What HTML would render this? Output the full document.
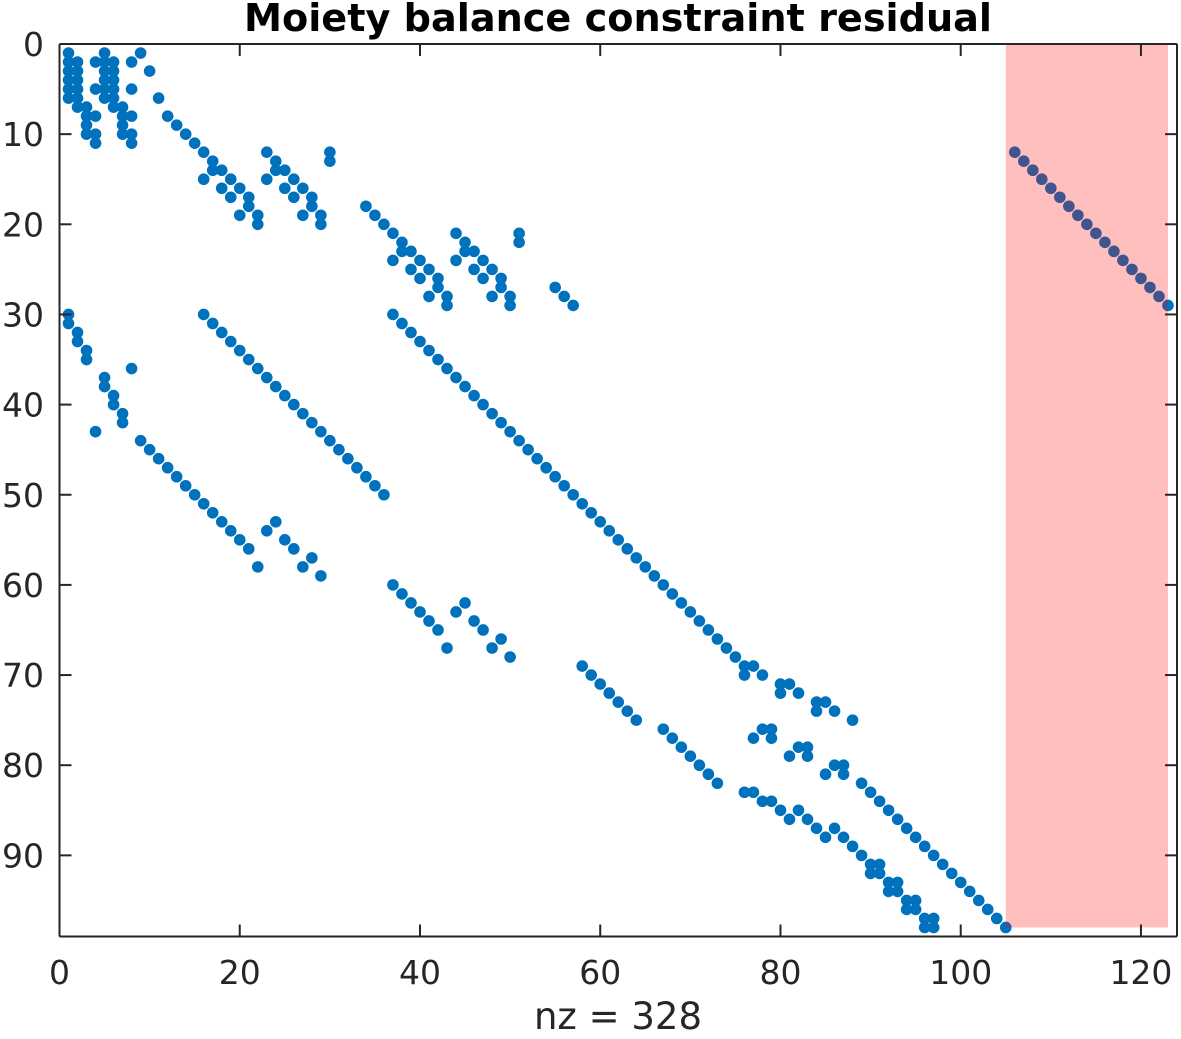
<!DOCTYPE html>
<html><head><meta charset="utf-8"><style>
body{margin:0;background:#fff;}
svg text{font-family:"DejaVu Sans","Liberation Sans",sans-serif;fill:#262626;}
</style></head><body>
<svg id="chart" width="1181" height="1034" xmlns="http://www.w3.org/2000/svg">
<rect width="1181" height="1034" fill="#fff"/>
<text x="618" y="31" text-anchor="middle" font-size="38.2" font-weight="bold" style="fill:#000">Moiety balance constraint residual</text>
<g id="marks"></g>
<rect id="hl" fill="rgba(255,0,0,0.25)"/>
<g id="axes"></g>
<text x="618" y="1029" text-anchor="middle" font-size="37">nz = 328</text>
</svg>
<script>
const xTicks=[0,20,40,60,80,100,120];
const yTicks=[0,10,20,30,40,50,60,70,80,90];
const nCols=123, nRows=98;
const highlightCols=[105,123];
const highlightRows=[0,98];
// nonzero entries grouped: [col, rows...]
const colRows=[
[1,1,2,3,4,5,6,30,31],[2,2,3,4,5,6,7,32,33],[3,7,8,9,10,34,35],[4,2,5,8,10,11,43],
[5,1,2,3,4,5,6,37,38],[6,2,3,4,5,6,7,39,40],[7,7,8,9,10,41,42],[8,2,5,8,10,11,36],
[9,1,44],[10,3,45],[11,6,46],[12,8,47],[13,9,48],[14,10,49],[15,11,50],
[16,12,15,30,51],[17,13,14,31,52],[18,14,16,32,53],[19,15,17,33,54],[20,16,19,34,55],
[21,17,18,35,56],[22,19,20,36,58],[23,12,15,37,54],[24,13,14,38,53],[25,14,16,39,55],
[26,15,17,40,56],[27,16,19,41,58],[28,17,18,42,57],[29,19,20,43,59],[30,12,13,44],
[31,45],[32,46],[33,47],[34,18,48],[35,19,49],[36,20,50],
[37,21,24,30,60],[38,22,23,31,61],[39,23,25,32,62],[40,24,26,33,63],[41,25,28,34,64],
[42,26,27,35,65],[43,28,29,36,67],[44,21,24,37,63],[45,22,23,38,62],[46,23,25,39,64],
[47,24,26,40,65],[48,25,28,41,67],[49,26,27,42,66],[50,28,29,43,68],[51,21,22,44],
[52,45],[53,46],[54,47],[55,27,48],[56,28,49],[57,29,50],[58,51,69],[59,52,70],[60,53,71],
[61,54,72],[62,55,73],[63,56,74],[64,57,75],[65,58],[66,59],[67,60,76],[68,61,77],[69,62,78],
[70,63,79],[71,64,80],[72,65,81],[73,66,82],[74,67],[75,68],[76,69,70,83],[77,69,77,83],
[78,70,76,84],[79,76,77,84],[80,71,72,85],[81,71,79,86],[82,72,78,85],[83,78,79,86],
[84,73,74,87],[85,73,81,88],[86,74,80,87],[87,80,81,88],[88,75,89],[89,82,90],
[90,83,91,92],[91,84,91,92],[92,85,93,94],[93,86,93,94],[94,87,95,96],[95,88,95,96],
[96,89,97,98],[97,90,97,98],[98,91],[99,92],[100,93],[101,94],[102,95],[103,96],[104,97],[105,98],
[106,12],[107,13],[108,14],[109,15],[110,16],[111,17],[112,18],[113,19],[114,20],[115,21],
[116,22],[117,23],[118,24],[119,25],[120,26],[121,27],[122,28],[123,29]
];
const L=59.5,T=44,R=1177,B=936.5;
const sx=c=>L+(R-L)*c/(nCols+1);
const sy=r=>T+(B-T)*r/(nRows+1);
const NS="http://www.w3.org/2000/svg";
const marks=document.getElementById('marks');
colRows.forEach(e=>{
  const c=e[0];
  for(let i=1;i<e.length;i++){
    const p=document.createElementNS(NS,'circle');
    p.setAttribute('cx',sx(c));p.setAttribute('cy',sy(e[i]));p.setAttribute('r',5.8);
    p.setAttribute('fill','#0072BD');
    
    
    marks.appendChild(p);
  }
});
const hl=document.getElementById('hl');
hl.setAttribute('x',sx(highlightCols[0]));hl.setAttribute('y',sy(highlightRows[0]));
hl.setAttribute('width',sx(highlightCols[1])-sx(highlightCols[0]));
hl.setAttribute('height',sy(highlightRows[1])-sy(highlightRows[0]));
const ax=document.getElementById('axes');
function line(x1,y1,x2,y2,name){const l=document.createElementNS(NS,'line');
l.setAttribute('x1',x1);l.setAttribute('y1',y1);l.setAttribute('x2',x2);l.setAttribute('y2',y2);
l.setAttribute('stroke','#262626');l.setAttribute('stroke-width','2');


ax.appendChild(l);}
function text(x,y,s,anchor,name){const t=document.createElementNS(NS,'text');
t.setAttribute('x',x);t.setAttribute('y',y);t.setAttribute('text-anchor',anchor);t.setAttribute('font-size','33');t.textContent=s;


ax.appendChild(t);}
line(L,T,R,T,'axis-box-top');line(L,B,R,B,'axis-box-bottom');line(L,T,L,B,'y-axis-line');line(R,T,R,B,'axis-box-right');
xTicks.forEach(v=>{const x=sx(v);line(x,B,x,B-12,'x-tick');line(x,T,x,T+12,'x-tick-top');text(x,984,String(v),'middle','x-tick-label');});
yTicks.forEach(v=>{const y=sy(v);line(L,y,L+12,y,'y-tick');line(R,y,R-12,y,'y-tick-right');text(44,y+12,String(v),'end','y-tick-label');});
</script>
</body></html>
